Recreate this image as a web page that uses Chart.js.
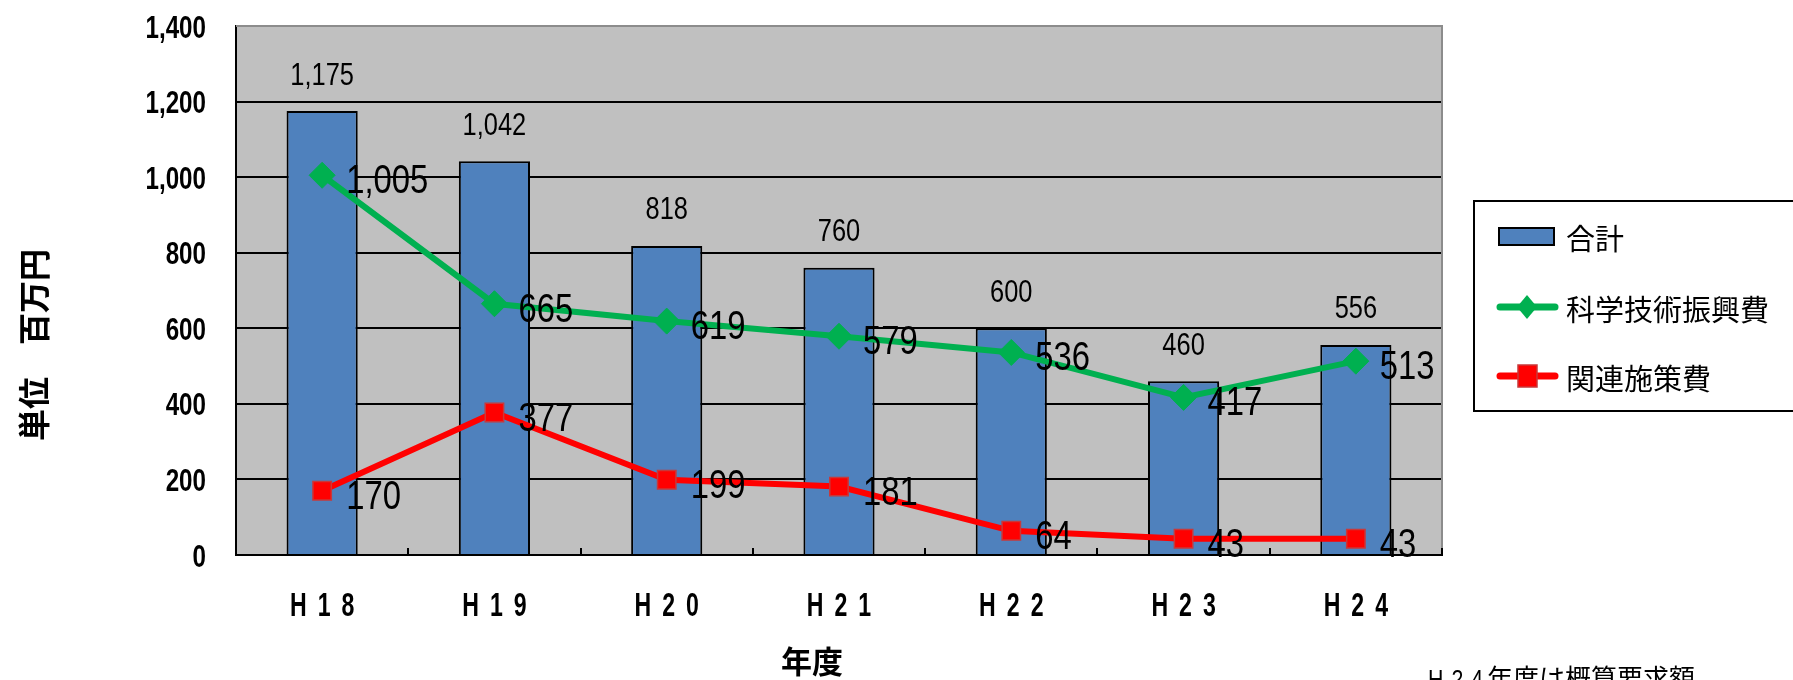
<!DOCTYPE html>
<html>
<head>
<meta charset="utf-8">
<script src="https://cdn.jsdelivr.net/npm/chart.js@4/dist/chart.umd.min.js"></script>
<style>
  html, body { margin: 0; padding: 0; background: #ffffff; }
  #wrap { width: 1793px; height: 680px; }
</style>
</head>
<body>
<div id="wrap"><canvas id="c" width="1793" height="680"></canvas></div>
<script>
// Budget by fiscal year (unit: million yen)
const years = ['H18', 'H19', 'H20', 'H21', 'H22', 'H23', 'H24'];
const totalValues = [1175, 1042, 818, 760, 600, 460, 556];
const scienceValues = [1005, 665, 619, 579, 536, 417, 513];
const relatedValues = [170, 377, 199, 181, 64, 43, 43];
const yTickValues = [0, 200, 400, 600, 800, 1000, 1200, 1400];
const seriesNames = ['合計', '科学技術振興費', '関連施策費'];
const yTitle = '単位　百万円';
const xTitle = '年度';
const noteLead = 'H24';
const noteRest = '年度は概算要求額';

const SANS = '"Liberation Sans", Arial, sans-serif';
const CJK = '"Noto Sans CJK JP", "Noto Sans", sans-serif';
const NARROW_X = 0.82;   // horizontal squeeze giving a condensed face

const BLUE = '#4F81BD';
const GREEN = '#00B050';
const RED = '#FF0000';

const fmt = v => Number(v).toLocaleString('en-US');

// draw text in a condensed version of the sans face
function narrowText(ctx, text, x, y, align, font, squeeze) {
  ctx.save();
  ctx.font = font;
  ctx.textAlign = align;
  ctx.translate(x, y);
  ctx.scale(squeeze || NARROW_X, 1);
  ctx.fillText(text, 0, 0);
  ctx.restore();
}

// draw text one character at a time with extra tracking, centred on x
function spacedText(ctx, text, x, y, font, gap, squeeze) {
  const sx = squeeze || NARROW_X;
  ctx.save();
  ctx.font = font;
  ctx.textAlign = 'left';
  const widths = text.split('').map(ch => ctx.measureText(ch).width * sx);
  const total = widths.reduce((s, w) => s + w, 0) + gap * (text.length - 1);
  let cx = x - total / 2;
  text.split('').forEach((ch, i) => {
    ctx.save();
    ctx.translate(cx, y);
    ctx.scale(sx, 1);
    ctx.fillText(ch, 0, 0);
    ctx.restore();
    cx += widths[i] + gap;
  });
  ctx.restore();
  return total;
}

const decor = {
  id: 'decor',
  beforeDraw(chart) {
    const { ctx, chartArea: a } = chart;
    ctx.save();
    ctx.fillStyle = '#C0C0C0';
    ctx.fillRect(a.left, a.top, a.right - a.left, a.bottom - a.top);
    ctx.restore();
  },
  afterDatasetsDraw(chart) {
    const { ctx } = chart;
    ctx.save();
    ctx.fillStyle = '#000';
    ctx.textBaseline = 'middle';
    // totals above bars
    const barMeta = chart.getDatasetMeta(0);
    barMeta.data.forEach((el, i) => {
      narrowText(ctx, fmt(chart.data.datasets[0].data[i]), el.x, el.y - 35, 'center', '31px ' + SANS);
    });
    // line values to the right of each marker
    [1, 2].forEach(di => {
      const meta = chart.getDatasetMeta(di);
      meta.data.forEach((el, i) => {
        narrowText(ctx, fmt(chart.data.datasets[di].data[i]), el.x + 24, el.y + 7, 'left', '40px ' + SANS);
      });
    });
    ctx.restore();
  },
  afterDraw(chart) {
    const { ctx, chartArea: a } = chart;
    const xs = chart.scales.x;
    const ys = chart.scales.y;
    ctx.save();
    // top and right frame edges
    ctx.strokeStyle = '#8c8c8c';
    ctx.lineWidth = 2;
    ctx.beginPath();
    ctx.moveTo(a.left, a.top);
    ctx.lineTo(a.right, a.top);
    ctx.lineTo(a.right, a.bottom);
    ctx.stroke();
    // short category boundary ticks along the bottom
    ctx.strokeStyle = '#000';
    const step = (a.right - a.left) / years.length;
    for (let i = 0; i <= years.length; i++) {
      const x = Math.round(a.left + step * i);
      ctx.beginPath();
      ctx.moveTo(x, a.bottom);
      ctx.lineTo(x, a.bottom - 7);
      ctx.stroke();
    }

    ctx.fillStyle = '#000';
    ctx.textBaseline = 'middle';
    // y tick labels
    ys.ticks.forEach(t => {
      narrowText(ctx, fmt(t.value), a.left - 30, ys.getPixelForValue(t.value) + 3, 'right', 'bold 31px ' + SANS, 0.78);
    });
    // x tick labels
    xs.ticks.forEach(t => {
      spacedText(ctx, xs.getLabelForValue(t.value), xs.getPixelForValue(t.value), 607, 'bold 33px ' + SANS, 11, 0.7);
    });

    // y axis title
    ctx.save();
    ctx.translate(34, 345);
    ctx.rotate(-Math.PI / 2);
    ctx.font = 'bold 32px ' + CJK;
    ctx.textAlign = 'center';
    ctx.textBaseline = 'middle';
    ctx.fillText(yTitle, 0, 0);
    ctx.restore();
    // x axis title
    ctx.font = 'bold 31px ' + CJK;
    ctx.textAlign = 'center';
    ctx.textBaseline = 'middle';
    ctx.fillText(xTitle, 812, 661);

    // legend
    const lx = 1474, ly = 201, lh = 210;
    ctx.fillStyle = '#fff';
    ctx.fillRect(lx, ly, 1793 - lx, lh);
    ctx.strokeStyle = '#000';
    ctx.lineWidth = 2;
    ctx.strokeRect(lx, ly, 1793 - lx + 2, lh);
    const ds = chart.data.datasets;
    const rows = [236, 307, 376];
    ctx.fillStyle = ds[0].backgroundColor;
    ctx.fillRect(1499, rows[0] - 8, 55, 17);
    ctx.strokeRect(1499, rows[0] - 8, 55, 17);
    ctx.lineCap = 'round';
    [1, 2].forEach(di => {
      const y = rows[di];
      ctx.strokeStyle = ds[di].borderColor;
      ctx.lineWidth = 7;
      ctx.beginPath();
      ctx.moveTo(1500, y);
      ctx.lineTo(1555, y);
      ctx.stroke();
      ctx.fillStyle = ds[di].pointBackgroundColor;
      if (di === 1) {
        ctx.beginPath();
        ctx.moveTo(1527, y - 12);
        ctx.lineTo(1537, y);
        ctx.lineTo(1527, y + 12);
        ctx.lineTo(1517, y);
        ctx.closePath();
        ctx.fill();
      } else {
        ctx.fillRect(1518, y - 11, 19, 22);
        ctx.strokeStyle = ds[di].pointBorderColor;
        ctx.lineWidth = 1.5;
        ctx.strokeRect(1518, y - 11, 19, 22);
      }
    });
    ctx.fillStyle = '#000';
    ctx.font = '29px ' + CJK;
    ctx.textAlign = 'left';
    ctx.textBaseline = 'middle';
    seriesNames.forEach((n, i) => ctx.fillText(n, 1566, rows[i] + 3));

    // note at the bottom right
    ctx.textBaseline = 'alphabetic';
    const leadW = spacedText(ctx, noteLead, 0, -1000, '26px ' + SANS, 8);
    spacedText(ctx, noteLead, 1428 + leadW / 2, 688, '26px ' + SANS, 8);
    ctx.font = '26px ' + CJK;
    ctx.textAlign = 'left';
    ctx.fillText(noteRest, 1428 + leadW + 4, 688);
    ctx.restore();
  }
};

new Chart(document.getElementById('c'), {
  type: 'bar',
  data: {
    labels: years,
    datasets: [
      {
        type: 'bar',
        label: seriesNames[0],
        data: totalValues,
        backgroundColor: BLUE,
        borderColor: '#000',
        borderWidth: 2,
        borderSkipped: 'bottom',
        barPercentage: 0.413,
        categoryPercentage: 1,
        order: 3
      },
      {
        type: 'line',
        label: seriesNames[1],
        data: scienceValues,
        borderColor: GREEN,
        borderWidth: 6,
        pointStyle: 'rectRot',
        pointRadius: 13,
        pointBackgroundColor: GREEN,
        pointBorderColor: GREEN,
        pointBorderWidth: 1,
        tension: 0,
        order: 2
      },
      {
        type: 'line',
        label: seriesNames[2],
        data: relatedValues,
        borderColor: RED,
        borderWidth: 6,
        pointStyle: 'rect',
        pointRadius: 13,
        pointBackgroundColor: RED,
        pointBorderColor: '#C8383A',
        pointBorderWidth: 1.5,
        tension: 0,
        order: 1
      }
    ]
  },
  options: {
    responsive: false,
    animation: false,
    events: [],
    layout: { padding: { left: 0, top: 26, right: 351, bottom: 0 } },
    plugins: {
      legend: { display: false },
      tooltip: { enabled: false },
      title: { display: false }
    },
    scales: {
      x: {
        offset: true,
        grid: { display: false, drawTicks: false },
        border: { display: true, color: '#000', width: 2 },
        ticks: { display: false },
        afterFit(scale) { scale.height = 125; }
      },
      y: {
        min: yTickValues[0],
        max: yTickValues[yTickValues.length - 1],
        afterBuildTicks(scale) { scale.ticks = yTickValues.map(v => ({ value: v })); },
        grid: {
          drawTicks: false,
          lineWidth: 2,
          color: c => (c.tick && c.tick.value === 1400) ? '#8c8c8c' : '#000'
        },
        border: { display: true, color: '#000', width: 2 },
        ticks: { display: false },
        afterFit(scale) { scale.width = 236; }
      }
    }
  },
  plugins: [decor]
});
</script>
</body>
</html>
